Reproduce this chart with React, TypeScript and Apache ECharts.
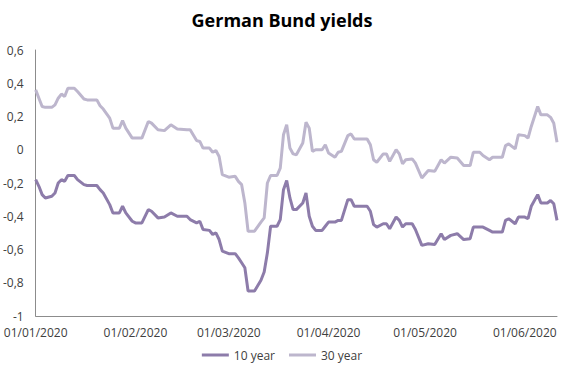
import React, { useEffect, useRef } from "react";
import * as echarts from "echarts";

const dates: string[] = [
  "2020-01-01", "2020-01-02", "2020-01-03", "2020-01-04", "2020-01-06", "2020-01-07", "2020-01-08", "2020-01-09",
  "2020-01-10", "2020-01-11", "2020-01-13", "2020-01-14", "2020-01-16", "2020-01-17", "2020-01-20", "2020-01-21",
  "2020-01-22", "2020-01-24", "2020-01-25", "2020-01-27", "2020-01-28", "2020-01-29", "2020-01-31",
  "2020-02-01", "2020-02-03", "2020-02-05", "2020-02-06", "2020-02-08", "2020-02-10", "2020-02-12", "2020-02-14",
  "2020-02-17", "2020-02-18", "2020-02-20", "2020-02-21", "2020-02-22", "2020-02-24", "2020-02-25", "2020-02-26",
  "2020-02-27", "2020-02-28",
  "2020-03-01", "2020-03-03", "2020-03-04", "2020-03-05", "2020-03-06", "2020-03-07", "2020-03-09", "2020-03-11",
  "2020-03-12", "2020-03-13", "2020-03-14", "2020-03-16", "2020-03-17", "2020-03-18", "2020-03-19", "2020-03-20",
  "2020-03-21", "2020-03-22", "2020-03-24", "2020-03-25", "2020-03-26", "2020-03-27", "2020-03-28", "2020-03-30",
  "2020-03-31",
  "2020-04-01", "2020-04-03", "2020-04-04", "2020-04-05", "2020-04-07", "2020-04-08", "2020-04-09", "2020-04-13",
  "2020-04-14", "2020-04-15", "2020-04-16", "2020-04-18", "2020-04-19", "2020-04-20", "2020-04-22", "2020-04-23",
  "2020-04-24", "2020-04-25", "2020-04-27", "2020-04-28", "2020-04-30",
  "2020-05-02", "2020-05-04", "2020-05-06", "2020-05-07", "2020-05-09", "2020-05-11", "2020-05-13", "2020-05-15",
  "2020-05-16", "2020-05-18", "2020-05-19", "2020-05-21", "2020-05-22", "2020-05-25", "2020-05-26", "2020-05-27",
  "2020-05-29", "2020-05-30",
  "2020-06-01", "2020-06-02", "2020-06-03", "2020-06-05", "2020-06-06", "2020-06-08", "2020-06-09", "2020-06-10",
  "2020-06-11",
];

const tenYear: number[] = [
  -0.18, -0.22, -0.27, -0.29, -0.28, -0.26, -0.2, -0.18, -0.19, -0.155, -0.155, -0.18, -0.21, -0.215, -0.215, -0.24,
  -0.26, -0.33, -0.38, -0.38, -0.34, -0.38, -0.43,
  -0.44, -0.44, -0.36, -0.37, -0.41, -0.405, -0.38, -0.4, -0.4, -0.42, -0.44, -0.43, -0.48, -0.485, -0.51, -0.5,
  -0.54, -0.61,
  -0.625, -0.625, -0.65, -0.68, -0.71, -0.85, -0.85, -0.785, -0.735, -0.62, -0.46, -0.46, -0.42, -0.24, -0.185, -0.29,
  -0.36, -0.36, -0.32, -0.26, -0.4, -0.46, -0.485, -0.485, -0.46,
  -0.435, -0.435, -0.425, -0.425, -0.3, -0.3, -0.34, -0.34, -0.37, -0.45, -0.465, -0.445, -0.445, -0.475, -0.405,
  -0.425, -0.465, -0.445, -0.445, -0.48, -0.575,
  -0.565, -0.57, -0.505, -0.54, -0.515, -0.505, -0.54, -0.535, -0.465, -0.465, -0.465, -0.485, -0.495, -0.495,
  -0.425, -0.415, -0.445, -0.405,
  -0.405, -0.415, -0.34, -0.27, -0.32, -0.32, -0.305, -0.325, -0.425,
];

const thirtyYear: number[] = [
  0.36, 0.31, 0.26, 0.255, 0.255, 0.27, 0.31, 0.335, 0.32, 0.37, 0.37, 0.35, 0.305, 0.3, 0.3, 0.265, 0.245, 0.19,
  0.13, 0.13, 0.175, 0.13, 0.07,
  0.07, 0.07, 0.17, 0.16, 0.12, 0.115, 0.15, 0.125, 0.12, 0.12, 0.055, 0.05, 0.01, 0.01, -0.015, -0.005, -0.04,
  -0.15,
  -0.165, -0.16, -0.19, -0.21, -0.32, -0.49, -0.49, -0.435, -0.41, -0.2, -0.155, -0.155, -0.11, 0.09, 0.15, 0.01,
  -0.025, -0.03, 0.04, 0.165, 0.13, -0.01, 0.0, 0.0, 0.03,
  -0.02, -0.045, -0.015, -0.01, 0.085, 0.095, 0.065, 0.065, 0.03, -0.06, -0.075, -0.025, -0.025, -0.07, 0.0, -0.025,
  -0.085, -0.06, -0.055, -0.08, -0.17,
  -0.125, -0.13, -0.06, -0.08, -0.045, -0.05, -0.095, -0.095, -0.015, -0.015, -0.035, -0.06, -0.045, -0.045, 0.025,
  0.035, 0.005, 0.09,
  0.085, 0.07, 0.14, 0.26, 0.21, 0.21, 0.195, 0.16, 0.045,
];

const tickDates: string[] = ["2020-01-01", "2020-02-01", "2020-03-01", "2020-04-01", "2020-05-01", "2020-06-01"];

const seriesNames = ["10 year", "30 year"];
const colors = ["#8d7caa", "#bdb6cd"];

const parseDate = (s: string) => {
  const [y, m, d] = s.split("-").map(Number);
  return new Date(y, m - 1, d).getTime();
};

const pad = (n: number) => (n < 10 ? "0" + n : "" + n);

export default function App() {
  const ref = useRef<HTMLDivElement>(null);

  useEffect(() => {
    if (!ref.current) return;
    const chart = echarts.init(ref.current, undefined, { renderer: "svg" });
    const font = "'Open Sans', sans-serif";
    const ticks = tickDates.map(parseDate);
    chart.setOption({
      animation: false,
      title: {
        text: "German Bund yields",
        left: "center",
        top: 6,
        textStyle: { fontFamily: font, fontSize: 18, fontWeight: "bold", color: "#000" },
      },
      grid: { left: 35, right: 7, top: 50, bottom: 61 },
      legend: {
        bottom: 11,
        left: "center",
        icon: "rect",
        itemWidth: 27,
        itemHeight: 3,
        itemGap: 14,
        textStyle: { fontFamily: font, fontSize: 12, color: "#404040" },
        data: seriesNames,
      },
      xAxis: {
        type: "value",
        min: parseDate(dates[0]),
        max: parseDate(dates[dates.length - 1]),
        axisLine: { onZero: false, lineStyle: { color: "#8c8c8c", width: 1 } },
        axisTick: { show: false },
        splitLine: { show: false },
        axisLabel: {
          customValues: ticks,
          margin: 10,
          fontFamily: font,
          fontSize: 12,
          color: "#404040",
          formatter: (v: number) => {
            const d = new Date(v);
            return pad(d.getDate()) + "/" + pad(d.getMonth() + 1) + "/" + d.getFullYear();
          },
        },
      },
      yAxis: {
        type: "value",
        min: -1,
        max: 0.6,
        interval: 0.2,
        axisLine: { show: true, lineStyle: { color: "#8c8c8c", width: 1 } },
        axisTick: { show: false },
        splitLine: { show: false },
        axisLabel: {
          margin: 12,
          fontFamily: font,
          fontSize: 12,
          color: "#404040",
          formatter: (v: number) => String(Math.round(v * 10) / 10).replace(".", ","),
        },
      },
      series: [
        {
          name: seriesNames[0],
          type: "line",
          data: dates.map((d, i) => [parseDate(d), tenYear[i]]),
          showSymbol: false,
          symbol: "none",
          lineStyle: { color: colors[0], width: 3 },
          itemStyle: { color: colors[0] },
          z: 3,
        },
        {
          name: seriesNames[1],
          type: "line",
          data: dates.map((d, i) => [parseDate(d), thirtyYear[i]]),
          showSymbol: false,
          symbol: "none",
          lineStyle: { color: colors[1], width: 3 },
          itemStyle: { color: colors[1] },
          z: 2,
        },
      ],
    });
    return () => chart.dispose();
  }, []);

  return <div ref={ref} style={{ width: 564, height: 377, position: "absolute", left: 0, top: 0, background: "#fff" }} />;
}
